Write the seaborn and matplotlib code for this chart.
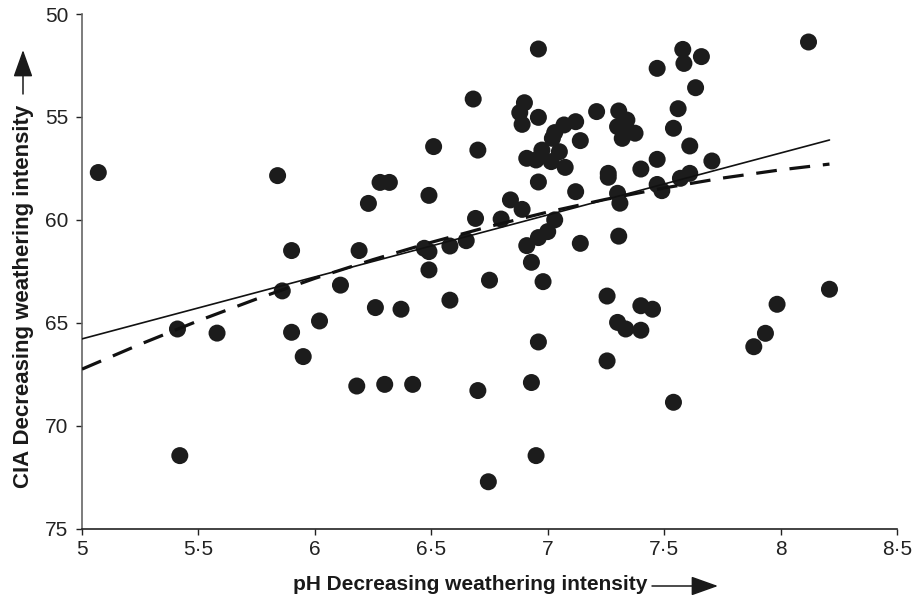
import matplotlib
matplotlib.use("Agg")
import matplotlib.pyplot as plt
import seaborn as sns
import pandas as pd

# ---- data ----
ph = [5.07, 5.41, 5.42, 5.58, 5.84, 5.86, 5.90, 5.90, 5.95, 6.02,
      6.11, 6.18, 6.19, 6.23, 6.26, 6.28, 6.32, 6.30, 6.37, 6.42,
      6.47, 6.49, 6.49, 6.49, 6.51, 6.58, 6.58, 6.65, 6.69, 6.68,
      6.70, 6.70, 6.75, 6.745, 6.80, 6.84, 6.89, 6.90, 6.88, 6.89,
      6.96, 6.96, 7.03, 7.07, 7.12, 7.02, 7.14, 6.91, 6.975, 6.95,
      7.05, 7.015, 7.075, 6.96, 7.12, 7.03, 7.00, 6.96, 6.91, 7.14,
      6.93, 6.98, 6.96, 6.93, 6.95, 7.21, 7.305, 7.34, 7.30, 7.325,
      7.375, 7.32, 7.26, 7.26, 7.30, 7.31, 7.305, 7.255, 7.40, 7.45,
      7.30, 7.335, 7.40, 7.255, 7.54, 7.40, 7.47, 7.47, 7.49, 7.57,
      7.61, 7.61, 7.705, 7.54, 7.56, 7.635, 7.47, 7.58, 7.585, 7.66,
      8.12, 7.985, 7.935, 7.885, 8.21]
cia = [57.70, 65.30, 71.45, 65.50, 57.85, 63.45, 61.49, 65.46, 66.64, 64.91,
       63.17, 68.07, 61.49, 59.20, 64.26, 58.18, 58.18, 67.99, 64.34, 67.99,
       61.38, 61.54, 62.43, 58.81, 56.44, 63.90, 61.27, 61.01, 59.93, 54.13,
       56.61, 68.29, 62.93, 72.72, 59.96, 59.03, 59.49, 54.31, 54.79, 55.36,
       55.02, 51.70, 55.76, 55.39, 55.23, 56.04, 56.15, 57.01, 56.61, 57.09,
       56.69, 57.17, 57.45, 58.16, 58.63, 60.00, 60.57, 60.86, 61.25, 61.14,
       62.06, 63.00, 65.93, 67.90, 71.45, 54.74, 54.71, 55.15, 55.47, 55.79,
       55.79, 56.04, 57.74, 57.93, 58.71, 59.19, 60.79, 63.70, 64.17, 64.34,
       64.98, 65.30, 65.36, 66.85, 68.86, 57.53, 57.06, 58.28, 58.58, 57.98,
       57.74, 56.41, 57.14, 55.55, 54.60, 53.58, 52.64, 51.72, 52.40, 52.07,
       51.36, 64.10, 65.51, 66.16, 63.37]

linear_x = [5.0, 8.21]
linear_y = [65.78, 56.12]

curve_x = [5.0, 5.25, 5.5, 5.75, 6.0, 6.25, 6.5, 6.75, 7.0, 7.25, 7.5, 7.75, 8.0, 8.21]
curve_y = [67.25, 66.04, 64.90, 63.84, 62.84, 61.93, 61.09, 60.32, 59.62, 59.00,
           58.45, 57.97, 57.57, 57.29]

x_ticks = [5, 5.5, 6, 6.5, 7, 7.5, 8, 8.5]
x_ticklabels = ["5", "5·5", "6", "6·5", "7", "7·5", "8", "8·5"]
y_ticks = [50, 55, 60, 65, 70, 75]
y_ticklabels = ["50", "55", "60", "65", "70", "75"]

x_label = "pH Decreasing weathering intensity"
y_label = "CIA Decreasing weathering intensity"

# ---- plotting ----
sns.set_theme(style="ticks")
plt.rcParams["font.family"] = ["Liberation Sans", "DejaVu Sans"]

W, H = 915, 595
fig = plt.figure(figsize=(W / 100, H / 100), dpi=100)
ax = fig.add_axes([82 / W, 1 - 528.7 / H, (897 - 82) / W, (528.7 - 14) / H])

pts = pd.DataFrame({"pH": ph, "CIA": cia})
sns.scatterplot(data=pts, x="pH", y="CIA", ax=ax, s=150, color="#1c1c1c",
                edgecolor="none", linewidth=0, zorder=3)
sns.lineplot(x=linear_x, y=linear_y, ax=ax, color="#111111", lw=1.2, zorder=4)
sns.lineplot(x=curve_x, y=curve_y, ax=ax, color="#111111", lw=2.3,
             linestyle=(0, (6.5, 4)), zorder=4)

ax.set_xlim(5, 8.5)
ax.set_ylim(75, 50)
ax.set_xticks(x_ticks)
ax.set_xticklabels(x_ticklabels)
ax.set_yticks(y_ticks)
ax.set_yticklabels(y_ticklabels)
ax.tick_params(axis="both", labelsize=15, length=4, width=1.0,
               colors="#222222", pad=4)
ax.tick_params(axis="y", pad=6)
for side in ("top", "right"):
    ax.spines[side].set_visible(False)
ax.spines["left"].set_color("#666666")
ax.spines["bottom"].set_color("#222222")
ax.spines["left"].set_linewidth(1.2)
ax.spines["bottom"].set_linewidth(1.2)
ax.set_xlabel("")
ax.set_ylabel("")

arrow_style = "-|>,head_length=1.4,head_width=0.5"

# axis titles with arrows (figure pixel coordinates)
fig.text(293 / W, 1 - 590 / H, x_label, ha="left", va="baseline",
         fontsize=15, fontweight="bold", color="#1a1a1a")
ax.annotate("", xy=(718, H - 586), xytext=(652, H - 586),
            xycoords="figure pixels", textcoords="figure pixels",
            arrowprops=dict(arrowstyle=arrow_style, color="#1a1a1a",
                            lw=1.1, shrinkA=0, shrinkB=0))

fig.text(24 / W, 1 - 296 / H, y_label, ha="center", va="center",
         rotation=90, fontsize=16, fontweight="bold", color="#1a1a1a")
ax.annotate("", xy=(23, H - 50), xytext=(23, H - 94),
            xycoords="figure pixels", textcoords="figure pixels",
            arrowprops=dict(arrowstyle=arrow_style, color="#1a1a1a",
                            lw=1.1, shrinkA=0, shrinkB=0))

fig.savefig("out.png", dpi=100)
